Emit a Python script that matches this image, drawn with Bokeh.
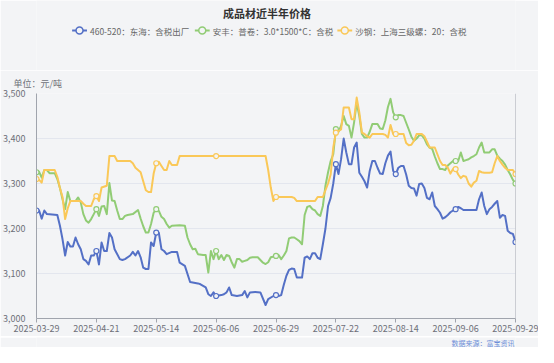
from datetime import datetime, timedelta
from bokeh.plotting import figure
from bokeh.layouts import column
from bokeh.models import (FixedTicker, Label, Span, Range1d, Title,
                          NumeralTickFormatter, DatetimeTickFormatter)
from bokeh.embed import file_html
from bokeh.resources import INLINE

title_text = "成品材近半年价格"
unit_text = "单位：元/吨"
source_text = "数据来源：富宝资讯"
series_names = ["460-520：东海：含税出厂", "安丰：普卷：3.0*1500*C：含税", "沙钢：上海三级螺：20：含税"]
series_colors = ["#5470c6", "#91cc75", "#fac858"]
start_date = "2025-03-29"
tick_labels = ["2025-03-29", "2025-04-21", "2025-05-14", "2025-06-06", "2025-06-29",
               "2025-07-22", "2025-08-14", "2025-09-06", "2025-09-29"]
y_ticks = [3000, 3100, 3200, 3300, 3400, 3500]

# (day offset from start_date, price)
blue = [(0,3240),(1,3240),(2,3222),(3,3240),(4,3232),(8,3230),(9,3206),(10,3176),(11,3140),(12,3170),
        (13,3160),(14,3160),(15,3180),(16,3165),(17,3154),(18,3132),(19,3128),(20,3120),(21,3140),(22,3140),
        (23,3150),(24,3120),(25,3169),(26,3150),(27,3150),(28,3190),(29,3180),(30,3154),(32,3132),(33,3130),
        (34,3132),(36,3140),(37,3148),(38,3140),(39,3150),(40,3136),(41,3113),(42,3110),(43,3110),(44,3169),
        (45,3161),(46,3191),(47,3190),(48,3154),(49,3150),(50,3143),(52,3148),(54,3148),(55,3124),(57,3117),
        (59,3081),(60,3080),(62,3078),(63,3076),(65,3069),(66,3054),(67,3050),(68,3058),(69,3050),(71,3052),
        (72,3054),(73,3058),(74,3069),(75,3052),(77,3050),(79,3052),(80,3061),(81,3047),(82,3058),(84,3059),
        (86,3058),(88,3030),(89,3043),(91,3050),(92,3052),(93,3050),(94,3052),(95,3075),(96,3095),(97,3108),
        (98,3111),(99,3110),(100,3091),(102,3091),(103,3135),(104,3138),(105,3132),(106,3145),(107,3145),
        (108,3135),(109,3132),(110,3165),(111,3200),(112,3250),(113,3268),(114,3300),(115,3343),(116,3321),
        (117,3354),(118,3400),(119,3369),(120,3343),(121,3343),(122,3380),(123,3391),(124,3324),(125,3315),
        (126,3305),(127,3291),(128,3328),(129,3350),(130,3350),(131,3335),(132,3322),(133,3321),(134,3345),
        (135,3362),(136,3371),(137,3328),(138,3321),(139,3335),(140,3339),(141,3339),(142,3320),(143,3295),
        (144,3290),(145,3289),(146,3273),(147,3299),(148,3300),(149,3290),(150,3268),(151,3265),(152,3280),
        (153,3250),(154,3243),(155,3235),(156,3222),(157,3225),(158,3230),(159,3236),(160,3240),(161,3243),
        (162,3248),(163,3245),(164,3241),(169,3241),(170,3265),(171,3280),(172,3250),(173,3232),(174,3243),
        (175,3248),(176,3255),(177,3261),(178,3224),(179,3230),(180,3228),(181,3195),(182,3190),(183,3188),
        (184,3170)]

green = [(0,3325),(1,3326),(2,3313),(3,3330),(4,3330),(5,3323),(7,3323),(8,3310),(9,3290),(10,3265),
         (11,3243),(12,3281),(13,3261),(15,3261),(16,3269),(17,3258),(18,3232),(19,3218),(20,3213),(21,3221),
         (22,3232),(23,3243),(24,3228),(25,3249),(26,3250),(27,3232),(28,3301),(29,3262),(30,3261),(31,3240),
         (32,3221),(33,3221),(34,3228),(35,3230),(37,3232),(39,3241),(40,3222),(41,3205),(42,3191),(43,3191),
         (44,3210),(45,3235),(46,3243),(47,3239),(48,3226),(49,3221),(50,3210),(51,3202),(52,3206),(55,3207),
         (57,3206),(58,3180),(59,3165),(60,3154),(61,3155),(62,3143),(64,3141),(65,3141),(66,3102),(67,3150),
         (68,3132),(69,3150),(70,3132),(71,3141),(72,3130),(73,3141),(74,3139),(75,3125),(76,3113),(77,3132),
         (78,3132),(79,3126),(80,3128),(81,3130),(82,3135),(83,3136),(85,3136),(86,3130),(87,3124),(88,3121),
         (89,3125),(90,3136),(92,3139),(93,3141),(94,3132),(95,3140),(96,3150),(97,3178),(98,3180),(99,3180),
         (100,3176),(101,3172),(102,3165),(103,3230),(104,3248),(105,3250),(106,3243),(107,3240),(108,3232),
         (109,3228),(110,3250),(111,3295),(112,3325),(113,3350),(114,3365),(115,3421),(116,3415),(117,3428),
         (118,3450),(119,3432),(120,3428),(121,3402),(122,3436),(123,3480),(124,3450),(125,3410),(126,3402),
         (127,3402),(128,3415),(129,3432),(131,3432),(132,3422),(133,3421),(134,3440),(135,3470),(136,3488),
         (137,3458),(138,3447),(139,3452),(140,3452),(141,3450),(142,3435),(143,3420),(144,3404),(145,3395),
         (146,3400),(147,3407),(148,3407),(149,3400),(150,3387),(151,3380),(152,3377),(153,3360),(154,3345),
         (155,3332),(156,3332),(157,3330),(158,3340),(159,3345),(160,3350),(161,3350),(162,3350),(163,3369),
         (164,3350),(165,3352),(166,3354),(167,3358),(168,3361),(169,3365),(170,3380),(171,3391),(172,3369),
         (174,3369),(175,3376),(176,3376),(177,3362),(178,3355),(179,3350),(180,3342),(181,3330),(182,3320),
         (183,3308),(184,3300)]

orange = [(0,3310),(1,3308),(2,3302),(3,3330),(7,3330),(8,3315),(9,3290),(10,3270),(11,3221),(12,3245),
          (13,3261),(17,3261),(18,3255),(19,3250),(21,3250),(22,3265),(23,3272),(24,3261),(25,3291),(27,3295),
          (28,3361),(30,3361),(31,3350),(36,3350),(37,3345),(38,3335),(39,3330),(40,3325),(41,3305),(42,3285),
          (43,3281),(44,3281),(45,3322),(46,3345),(47,3348),(48,3339),(49,3330),(50,3330),(51,3350),(52,3341),
          (54,3341),(55,3361),(69,3361),(88,3361),(89,3330),(90,3291),(91,3261),(92,3270),(98,3270),(99,3268),
          (100,3261),(107,3261),(108,3270),(110,3270),(111,3285),(112,3300),(113,3320),(114,3380),(115,3413),
          (117,3420),(118,3469),(120,3469),(121,3443),(122,3443),(123,3491),(124,3458),(125,3413),(126,3410),
          (127,3405),(128,3402),(129,3410),(133,3410),(134,3408),(135,3402),(136,3430),(137,3410),(138,3410),
          (141,3410),(142,3390),(143,3385),(144,3386),(145,3395),(146,3410),(148,3410),(149,3405),(150,3393),
          (151,3380),(153,3380),(154,3365),(155,3350),(156,3341),(157,3341),(158,3335),(159,3322),(160,3332),
          (161,3332),(162,3320),(163,3312),(164,3317),(165,3315),(166,3300),(167,3293),(168,3302),(169,3306),
          (170,3328),(171,3325),(172,3324),(174,3324),(175,3325),(176,3345),(177,3361),(178,3350),(179,3342),
          (180,3335),(181,3330),(183,3330),(184,3321)]

BG = "#f3f4f6"
FONT = "Noto Sans CJK SC"
W = 538
BL, BR = 31, 23                 # left / right borders shared by the aligned column
base = datetime.strptime(start_date, "%Y-%m-%d")
tick_dates = [datetime.strptime(t, "%Y-%m-%d") for t in tick_labels]
tick_days = {(d - base).days for d in tick_dates}

def blank(height):
    f = figure(width=W, height=height, output_backend="svg", toolbar_location=None,
               x_range=Range1d(BL, W - BR), y_range=Range1d(height, 0),
               x_axis_location=None, y_axis_location=None,
               background_fill_color=BG, border_fill_color=BG,
               min_border_left=BL, min_border_right=BR, min_border_top=0, min_border_bottom=0)
    f.outline_line_color = None
    f.grid.visible = False
    return f

# ---------- header (title, legend) ----------
HH = 70
head = blank(HH)
head.add_layout(Label(x=264, y=12, text=title_text, text_font=FONT, text_font_size="11px",
                      text_font_style="bold", text_color="#333333",
                      text_align="center", text_baseline="middle"))

legend_left = [67, 191, 335]
legend_y = 30
icon_w = 15
for lx, name, color in zip(legend_left, series_names, series_colors):
    head.line([lx, lx + icon_w], [legend_y, legend_y], line_color=color, line_width=2)
    head.scatter([lx + icon_w / 2], [legend_y], size=7, marker="circle",
                 fill_color=BG, line_color=color, line_width=1.5)
    head.add_layout(Label(x=lx + icon_w + 3, y=legend_y, text=name, text_font=FONT,
                          text_font_size="8.5px", text_color="#666666",
                          text_align="left", text_baseline="middle"))

# ---------- main chart ----------
p = figure(width=W, height=266, x_axis_type="datetime", output_backend="svg",
           toolbar_location=None, background_fill_color=BG, border_fill_color=BG,
           x_range=Range1d(tick_dates[0], tick_dates[-1]), y_range=Range1d(3000, 3500),
           min_border_left=BL, min_border_right=BR, min_border_top=23, min_border_bottom=18)
p.outline_line_color = None
p.add_layout(Title(text=unit_text, align="left", offset=-23, standoff=8,
                   text_font=FONT, text_font_size="9px", text_font_style="normal",
                   text_color="#6e7079"), "above")
p.xgrid.grid_line_color = None
p.ygrid.grid_line_color = "#e3e6ee"
p.ygrid.ticker = FixedTicker(ticks=y_ticks)

p.yaxis.ticker = FixedTicker(ticks=y_ticks)
p.yaxis.formatter = NumeralTickFormatter(format="0,0")
p.yaxis.axis_line_color = "#a0a4ad"
p.yaxis.major_tick_line_color = None
p.yaxis.minor_tick_line_color = None
p.yaxis.major_label_standoff = 5

p.xaxis.ticker = FixedTicker(ticks=[d.timestamp() * 1000 for d in tick_dates])
fmt = "%Y-%m-%d"
p.xaxis.formatter = DatetimeTickFormatter(days=fmt, months=fmt, years=fmt, hours=fmt,
                                          minutes=fmt, seconds=fmt, milliseconds=fmt,
                                          minsec=fmt, hourmin=fmt)
p.xaxis.axis_line_color = "#a0a4ad"
p.xaxis.major_tick_line_color = "#a0a4ad"
p.xaxis.major_tick_in = 0
p.xaxis.major_tick_out = 4
p.xaxis.minor_tick_line_color = None
p.xaxis.major_label_standoff = 2
for ax in (p.xaxis, p.yaxis):
    ax.major_label_text_font = FONT
    ax.major_label_text_font_size = "9px"
    ax.major_label_text_color = "#6e7079"

p.add_layout(Span(location=tick_dates[-1].timestamp() * 1000, dimension="height",
                  line_color="#a0a4ad", line_width=1))

for data, color in zip([blue, green, orange], series_colors):
    xs = [base + timedelta(days=d) for d, v in data]
    ys = [v for d, v in data]
    p.line(xs, ys, line_color=color, line_width=2, line_join="round")
    mk = [(base + timedelta(days=d), v) for d, v in data if d in tick_days]
    p.scatter([m[0] for m in mk], [m[1] for m in mk], size=5, marker="circle",
              fill_color=BG, line_color=color, line_width=1.2)

# ---------- footer (source) ----------
FH = 11
foot = blank(FH)
foot.add_layout(Label(x=514, y=5.5, text=source_text, text_font=FONT, text_font_size="7px",
                      text_color="#6f8fd8", text_align="right", text_baseline="middle"))

layout = column(head, p, foot, spacing=0)
open("out.html", "w").write(file_html(layout, INLINE))
